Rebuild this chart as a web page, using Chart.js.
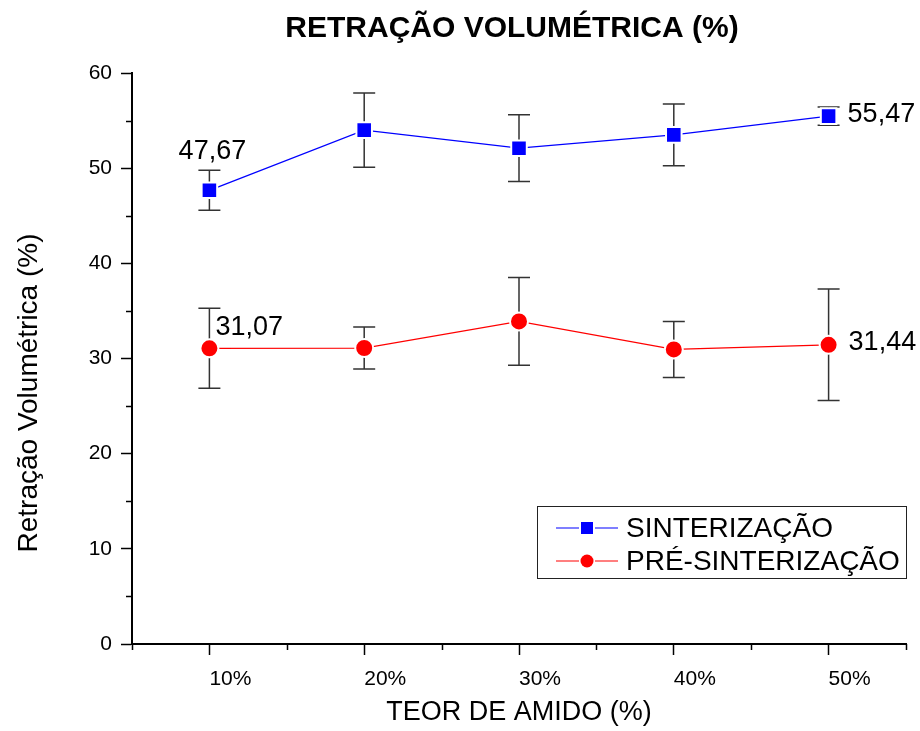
<!DOCTYPE html>
<html>
<head>
<meta charset="utf-8">
<script src="https://cdn.jsdelivr.net/npm/chart.js@4/dist/chart.umd.min.js"></script>
<style>
  html, body { margin: 0; padding: 0; background: #fff; }
  #wrap { width: 920px; height: 731px; }
</style>
</head>
<body>
<div id="wrap"><canvas id="retracao"></canvas></div>
<script>
const TEOR = ['10%', '20%', '30%', '40%', '50%']
const sinterizacao = [47.67, 54.0, 52.1, 53.5, 55.47]
const sinterizacaoErr = [2.1, 3.9, 3.5, 3.25, 0.95]
const preSinterizacao = [31.07, 31.1, 33.9, 30.95, 31.44]
const preSinterizacaoErr = [4.2, 2.2, 4.6, 2.95, 5.85]

const FONT = "'Liberation Sans', Arial, sans-serif"

function fmt(v) {
  return v.toFixed(2).replace('.', ',')
}

// vertical error bars with caps, under the markers
const errorBars = {
  id: 'errorBars',
  beforeDatasetsDraw(chart) {
    const {ctx, scales: {x, y}} = chart
    ctx.save()
    ctx.strokeStyle = '#333'
    ctx.lineWidth = 1.5
    chart.data.datasets.forEach(ds => {
      ds.data.forEach((v, i) => {
        const px = x.getPixelForValue(i)
        const top = y.getPixelForValue(v + ds.errors[i])
        const bot = y.getPixelForValue(v - ds.errors[i])
        ctx.beginPath()
        ctx.moveTo(px, top); ctx.lineTo(px, bot)
        ctx.moveTo(px - 11, top); ctx.lineTo(px + 11, top)
        ctx.moveTo(px - 11, bot); ctx.lineTo(px + 11, bot)
        ctx.stroke()
      })
    })
    ctx.restore()
  }
}

// value labels next to first / last points
const pointLabels = {
  id: 'pointLabels',
  afterDatasetsDraw(chart, args, opts) {
    const {ctx} = chart
    ctx.save()
    ctx.font = '27px ' + FONT
    ctx.fillStyle = '#000'
    ctx.textBaseline = 'middle'
    opts.items.forEach(it => {
      const el = chart.getDatasetMeta(it.ds).data[it.i]
      const v = chart.data.datasets[it.ds].data[it.i]
      ctx.textAlign = it.align
      ctx.fillText(fmt(v), el.x + it.dx, el.y + it.dy)
    })
    ctx.restore()
  }
}

// minor ticks, titles and the boxed legend
const decorations = {
  id: 'decorations',
  afterDraw(chart) {
    const {ctx, chartArea: area, scales: {x, y}} = chart
    ctx.save()
    ctx.strokeStyle = '#000'
    ctx.lineWidth = 1.5
    ctx.beginPath()
    for (let v = 5; v < 60; v += 10) {
      const py = Math.round(y.getPixelForValue(v)) + 0.5
      ctx.moveTo(area.left - 6, py); ctx.lineTo(area.left, py)
    }
    for (let i = 0; i <= TEOR.length; i++) {
      const px = Math.round(x.getPixelForValue(i - 0.5)) + 0.5
      ctx.moveTo(px, area.bottom); ctx.lineTo(px, area.bottom + 6)
    }
    ctx.stroke()

    ctx.fillStyle = '#000'
    ctx.textAlign = 'center'
    ctx.textBaseline = 'middle'
    ctx.font = 'bold 30px ' + FONT
    ctx.fillText('RETRAÇÃO VOLUMÉTRICA (%)', 512, 29)

    ctx.save()
    ctx.translate(29, 393)
    ctx.rotate(-Math.PI / 2)
    ctx.font = '28px ' + FONT
    ctx.fillText('Retração Volumétrica (%)', 0, 0)
    ctx.restore()

    // legend
    const bx = area.right - 369, by = area.bottom - 138
    ctx.lineWidth = 1
    ctx.strokeStyle = '#222'
    ctx.strokeRect(bx + 0.5, by + 0.5, 369, 72)
    ctx.font = '28px ' + FONT
    ctx.textAlign = 'left'
    chart.data.datasets.forEach((ds, k) => {
      const ry = by + 22 + k * 33
      ctx.strokeStyle = ds.borderColor
      ctx.lineWidth = 1.2
      ctx.beginPath()
      ctx.moveTo(bx + 19, ry); ctx.lineTo(bx + 81, ry)
      ctx.stroke()
      ctx.fillStyle = '#fff'
      ctx.fillRect(bx + 42, ry - 8, 16, 16)
      ctx.fillStyle = ds.backgroundColor
      if (ds.pointStyle === 'rect') {
        ctx.fillRect(bx + 44, ry - 6, 12, 12)
      } else {
        ctx.beginPath()
        ctx.arc(bx + 50, ry, 6.5, 0, Math.PI * 2)
        ctx.fill()
      }
      ctx.fillStyle = '#000'
      ctx.fillText(ds.label, bx + 89, ry + 1)
    })
    ctx.restore()
  }
}

const chart = new Chart(document.getElementById('retracao'), {
  type: 'line',
  data: {
    labels: TEOR,
    datasets: [
      {
        label: 'SINTERIZAÇÃO',
        data: sinterizacao,
        errors: sinterizacaoErr,
        borderColor: '#0000ff',
        backgroundColor: '#0000ff',
        borderWidth: 1.2,
        pointStyle: 'rect',
        pointRadius: 11,
        pointBackgroundColor: '#0000ff',
        pointBorderColor: '#fff',
        pointBorderWidth: 2,
      },
      {
        label: 'PRÉ-SINTERIZAÇÃO',
        data: preSinterizacao,
        errors: preSinterizacaoErr,
        borderColor: '#ff0000',
        backgroundColor: '#ff0000',
        borderWidth: 1.2,
        pointStyle: 'circle',
        pointRadius: 9,
        pointBackgroundColor: '#ff0000',
        pointBorderColor: '#fff',
        pointBorderWidth: 2,
      },
    ],
  },
  options: {
    responsive: true,
    maintainAspectRatio: false,
    animation: false,
    events: [],
    layout: {
      padding: {top: 73, right: 14, left: 0, bottom: 0},
    },
    plugins: {
      legend: {display: false},
      title: {display: false},
      tooltip: {enabled: false},
      pointLabels: {
        items: [
          {ds: 0, i: 0, dx: 3, dy: -39, align: 'center'},
          {ds: 0, i: 4, dx: 19, dy: -2, align: 'left'},
          {ds: 1, i: 0, dx: 6, dy: -21, align: 'left'},
          {ds: 1, i: 4, dx: 20, dy: -2, align: 'left'},
        ],
      },
    },
    scales: {
      x: {
        offset: true,
        ticks: {
          align: 'start',
          color: '#000',
          font: {size: 21, family: FONT},
          padding: 12,
          maxRotation: 0,
          autoSkip: false,
        },
        grid: {drawOnChartArea: false, tickLength: 11, tickColor: '#000', tickWidth: 1.5},
        border: {color: '#000', width: 2},
        title: {
          display: true,
          text: 'TEOR DE AMIDO (%)',
          color: '#000',
          font: {size: 27, family: FONT},
          padding: {top: 0, bottom: 2},
        },
        afterFit: s => { s.height = 87 },
      },
      y: {
        min: 0,
        max: 60,
        ticks: {
          stepSize: 10,
          color: '#000',
          font: {size: 21, family: FONT},
          padding: 9,
        },
        grid: {drawOnChartArea: false, tickLength: 11, tickColor: '#000', tickWidth: 1.5},
        border: {color: '#000', width: 2},
        afterFit: s => { s.width = 132 },
      },
    },
  },
  plugins: [errorBars, pointLabels, decorations],
})
</script>
</body>
</html>
